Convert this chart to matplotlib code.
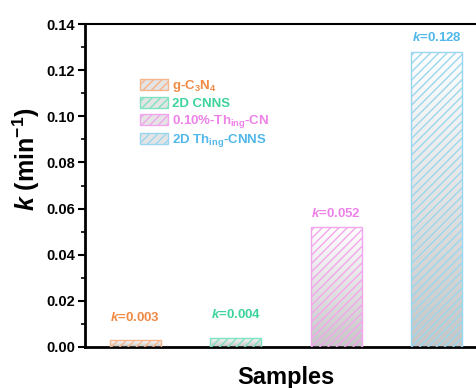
import numpy as np
import matplotlib.pyplot as plt
from matplotlib.patches import Patch
from matplotlib.colors import LinearSegmentedColormap
from matplotlib.ticker import MultipleLocator

plt.rcParams['font.family'] = 'Liberation Sans'
plt.rcParams['font.weight'] = 'bold'
plt.rcParams['mathtext.fontset'] = 'custom'
plt.rcParams['mathtext.rm'] = 'Liberation Sans:bold'
plt.rcParams['mathtext.bf'] = 'Liberation Sans:bold'
plt.rcParams['mathtext.it'] = 'Liberation Sans:italic:bold'
plt.rcParams['mathtext.default'] = 'bf'
plt.rcParams['hatch.linewidth'] = 1.0

samples = ['g-C$_3$N$_4$', '2D CNNS', '0.10%-Th$_{ing}$-CN', '2D Th$_{ing}$-CNNS']
k_values = [0.003, 0.004, 0.052, 0.128]
k_labels = ['0.003', '0.004', '0.052', '0.128']
edge_colors = ['#f5b48a', '#7fe3bf', '#f2a6ee', '#9bd6f0']
text_colors = ['#f08a45', '#3ed49c', '#ee82e8', '#52b8ea']
label_offsets = [16, 16.5, 10, 10]

fig = plt.figure(figsize=(4.77, 3.88), dpi=100)
ax = fig.add_axes([85 / 477, 1 - 347 / 388, 402 / 477, 323 / 388])

x = np.arange(1, len(k_values) + 1)
bars = ax.bar(x, k_values, width=0.51, facecolor='none', edgecolor=edge_colors,
              hatch='////', linewidth=1.0, zorder=3)

fade = LinearSegmentedColormap.from_list('fade', ['#c6c6c6', '#ffffff'])
grad = np.linspace(1, 0, 256).reshape(-1, 1)
for bar in bars:
    x0, w, h = bar.get_x(), bar.get_width(), bar.get_height()
    im = ax.imshow(grad, cmap=fade, vmin=0, vmax=1, aspect='auto',
                   extent=[x0, x0 + w, 0, h], origin='upper', zorder=2)
    im.set_clip_path(bar)

for xi, v, lab, c, off in zip(x, k_values, k_labels, text_colors, label_offsets):
    ax.annotate(r'$\mathit{k}$=' + lab, (xi, v), xytext=(0, off), textcoords='offset points',
                ha='center', va='center', color=c, fontsize=9.5, fontweight='bold')

ax.set_xlim(0.5, 4.5)
ax.set_ylim(0, 0.14)
ax.yaxis.set_major_locator(MultipleLocator(0.02))
ax.yaxis.set_minor_locator(MultipleLocator(0.01))
ax.yaxis.set_major_formatter(plt.FormatStrFormatter('%.2f'))
ax.set_xticks([])
ax.tick_params(axis='y', which='major', direction='out', length=5, width=1.5, labelsize=10.5, pad=2)
ax.tick_params(axis='y', which='minor', direction='out', length=3, width=1.2)
ax.spines['left'].set_linewidth(2)
ax.spines['bottom'].set_linewidth(2)
ax.spines['top'].set_linewidth(1.5)
ax.spines['right'].set_visible(False)

ax.set_xlabel('Samples', fontsize=17, fontweight='bold', labelpad=14)
ax.set_ylabel(r'$\mathit{k}$ (min$^{-1}$)', fontsize=18, fontweight='bold')
ax.yaxis.set_label_coords(-0.108, 0.58)

handles = [Patch(facecolor='#e4e4e4', edgecolor=c, hatch='////', linewidth=1.0) for c in edge_colors]
leg = ax.legend(handles, samples, loc='upper left', bbox_to_anchor=(0.115, 0.86), frameon=False,
                fontsize=9.5, handlelength=2.1, handleheight=0.9, labelspacing=0.2,
                handletextpad=0.3, borderpad=0.2)
for t, c in zip(leg.get_texts(), text_colors):
    t.set_color(c)

fig.savefig('out.png', dpi=100)
